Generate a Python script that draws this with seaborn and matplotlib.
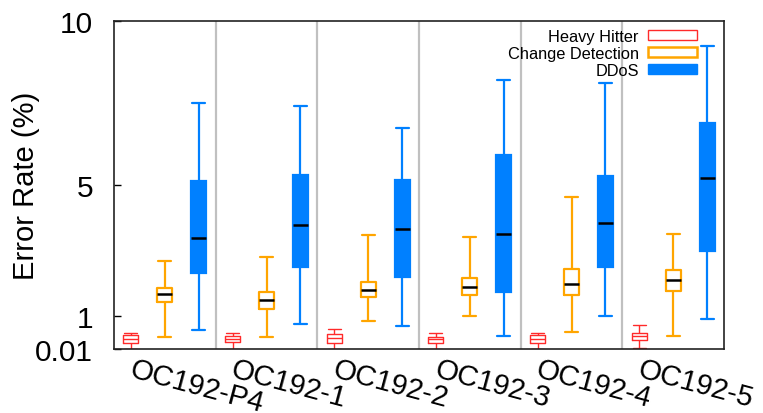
import numpy as np
import pandas as pd
import matplotlib
matplotlib.use("Agg")
import matplotlib.pyplot as plt
import matplotlib.transforms as mtransforms
from matplotlib.patches import Patch
import seaborn as sns

categories = ["OC192-P4", "OC192-1", "OC192-2", "OC192-3", "OC192-4", "OC192-5"]
series = ["Heavy Hitter", "Change Detection", "DDoS"]

# five-number summaries per category: [low whisker, Q1, median, Q3, high whisker]
heavy_hitter = [
    [0.00, 0.19, 0.31, 0.45, 0.51],
    [0.00, 0.21, 0.32, 0.41, 0.49],
    [0.00, 0.19, 0.34, 0.48, 0.61],
    [0.00, 0.20, 0.31, 0.38, 0.50],
    [0.00, 0.18, 0.32, 0.45, 0.51],
    [0.04, 0.29, 0.41, 0.49, 0.73],
]
change_detection = [
    [0.38, 1.45, 1.69, 1.87, 2.70],
    [0.37, 1.24, 1.49, 1.76, 2.81],
    [0.87, 1.58, 1.80, 2.05, 3.48],
    [1.02, 1.65, 1.90, 2.17, 3.41],
    [0.52, 1.65, 1.98, 2.46, 4.64],
    [0.42, 1.77, 2.12, 2.43, 3.50],
]
ddos = [
    [0.60, 2.32, 3.38, 5.14, 7.50],
    [0.78, 2.52, 3.78, 5.31, 7.42],
    [0.71, 2.19, 3.66, 5.15, 6.73],
    [0.40, 1.74, 3.52, 5.91, 8.20],
    [1.01, 2.50, 3.85, 5.27, 8.10],
    [0.91, 2.99, 5.21, 6.90, 9.23],
]

y_ticks = [0.01, 1, 5, 10]
y_tick_labels = ["0.01", "1", "5", "10"]

colors = {"Heavy Hitter": "#ff2a2a", "Change Detection": "#ffa500", "DDoS": "#0080ff"}

rows = []
for name, summ in zip(series, [heavy_hitter, change_detection, ddos]):
    for cat, vals in zip(categories, summ):
        for v in vals:
            rows.append({"category": cat, "series": name, "value": v})
df = pd.DataFrame(rows)

sns.set_style("white")
plt.rcParams["font.family"] = ["Liberation Sans", "DejaVu Sans"]
plt.rcParams["text.color"] = "black"
plt.rcParams["axes.labelcolor"] = "black"
plt.rcParams["xtick.color"] = "black"
plt.rcParams["ytick.color"] = "black"

fig = plt.figure(figsize=(7.63, 4.14), dpi=100)
ax = fig.add_axes([114 / 763, 1 - 350 / 414, 610 / 763, 328 / 414])

for i in range(len(categories) - 1):
    ax.axvline(i + 0.5, color="#c0c0c0", lw=1.6, zorder=0)

common = dict(x="category", y="value", hue="series", order=categories,
              hue_order=series, palette=colors, width=1.0, gap=0.56,
              dodge=True, whis=(0, 100), saturation=1, legend=False, ax=ax,
              capwidths=0.128)

sns.boxplot(data=df[df.series == "Heavy Hitter"], fill=False, linewidth=1.0,
            medianprops={"color": colors["Heavy Hitter"], "linewidth": 1.0},
            **common)
sns.boxplot(data=df[df.series == "Change Detection"], fill=False, linewidth=1.6,
            medianprops={"color": "black", "linewidth": 1.8},
            **common)
sns.boxplot(data=df[df.series == "DDoS"], fill=True, linewidth=1.6,
            linecolor=colors["DDoS"],
            medianprops={"color": "black", "linewidth": 1.8},
            **common)

ax.set_xlim(-0.5, len(categories) - 0.5)
ax.set_ylim(0.01, 10)
ax.set_yticks(y_ticks)
ax.set_yticklabels(y_tick_labels)
ax.set_xlabel("")
ax.set_ylabel("Error Rate (%)", fontsize=21, color="black")
ax.yaxis.set_label_coords((40 - 114) / 610, 0.5)

ax.tick_params(axis="y", direction="in", length=5, width=1, labelsize=21.5,
               pad=15, left=True, right=False, color="black", labelcolor="black")
ax.tick_params(axis="x", length=0, labelsize=21, pad=4, labelcolor="black")

for sp in ax.spines.values():
    sp.set_visible(True)
    sp.set_color("#222222")
    sp.set_linewidth(1.2)

ax.set_xticks(range(len(categories)))
ax.set_xticklabels(categories)
offset = mtransforms.ScaledTranslation(-31 / 100, 0, fig.dpi_scale_trans)
for lab in ax.get_xticklabels():
    lab.set_rotation(-15)
    lab.set_ha("left")
    lab.set_va("top")
    lab.set_rotation_mode("anchor")
    lab.set_transform(lab.get_transform() + offset)

handles = [
    Patch(facecolor="white", edgecolor=colors["Heavy Hitter"], linewidth=1.0),
    Patch(facecolor="white", edgecolor=colors["Change Detection"], linewidth=1.8),
    Patch(facecolor=colors["DDoS"], edgecolor=colors["DDoS"], linewidth=1.0),
]
ax.legend(handles, series, loc="upper right",
          bbox_to_anchor=((697 - 114) / 610, 1 - (30 - 22) / 328),
          frameon=False, markerfirst=False, fontsize=11.8, handlelength=3.0,
          handleheight=0.56, handletextpad=0.55, labelspacing=0.12,
          borderpad=0, borderaxespad=0, labelcolor="black")

fig.savefig("out.png", dpi=100)
